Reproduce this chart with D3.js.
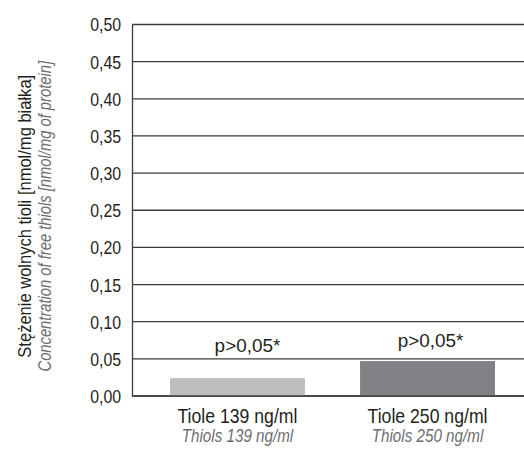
<!DOCTYPE html>
<html>
<head>
<meta charset="utf-8">
<script src="https://cdn.jsdelivr.net/npm/d3@7"></script>
<style>
  body { margin: 0; background: #fff; }
  text { font-family: "Liberation Sans", Arial, sans-serif; fill: #231f20; }
  .it { font-style: italic; fill: #6d6e71; }
</style>
</head>
<body>
<div id="chart"></div>
<script>
// data
var categories = ['Tiole 139 ng/ml', 'Tiole 250 ng/ml']
var categories_en = ['Thiols 139 ng/ml', 'Thiols 250 ng/ml']
var values = [0.024, 0.047]
var bar_colors = ['#bcbec0', '#808285']
var p_labels = ['p>0,05*', 'p>0,05*']
var p_label_at = [0.059, 0.066]   // where the p labels sit, in axis units
var y_ticks = [0, 0.05, 0.10, 0.15, 0.20, 0.25, 0.30, 0.35, 0.40, 0.45, 0.50]

const width = 524
const height = 449

var svg = d3.select('#chart').append('svg')
	.attr('width', width)
	.attr('height', height);

var y = d3.scaleLinear().domain([0, 0.5]).range([396, 24.5]);
var x = d3.scaleBand().domain(categories).range([132, 533])
	.paddingInner(0.29).paddingOuter(0.2);

var fmt = function(d){ return d3.format('.2f')(d).replace('.', ','); };

// no condensed font here, so squeeze the text to look condensed
var squeeze = function(sel, k){
	sel.each(function(){
		var len = this.getComputedTextLength();
		d3.select(this).attr('textLength', len*k).attr('lengthAdjust', 'spacingAndGlyphs');
	});
}

// grid lines
svg.append('g')
	.selectAll('line').data(y_ticks).enter().append('line')
	.attr('x1', 132).attr('x2', width)
	.attr('y1', function(d){ return y(d); })
	.attr('y2', function(d){ return y(d); })
	.attr('stroke', '#3c3c3c')
	.attr('stroke-width', 1.3);

// bars
svg.append('g')
	.selectAll('rect').data(values).enter().append('rect')
	.attr('x', function(d, i){ return x(categories[i]); })
	.attr('width', x.bandwidth())
	.attr('y', function(d){ return y(d); })
	.attr('height', function(d){ return y(0) - y(d); })
	.attr('fill', function(d, i){ return bar_colors[i]; });

// y axis
var yAxis = svg.append('g')
	.attr('transform', 'translate(132,0)')
	.call(d3.axisLeft(y).tickValues(y_ticks).tickFormat(fmt).tickSize(0).tickPadding(11));
yAxis.select('.domain').attr('stroke', '#3c3c3c').attr('stroke-width', 1.3);
yAxis.selectAll('text')
	.attr('font-family', '"Liberation Sans", Arial, sans-serif')
	.attr('font-size', 18)
	.attr('fill', '#231f20')
	.attr('dy', '0.36em')
	.call(squeeze, 0.88);

// bottom axis line
svg.append('line')
	.attr('x1', 132).attr('x2', width)
	.attr('y1', y(0)).attr('y2', y(0))
	.attr('stroke', '#3c3c3c').attr('stroke-width', 1.3);

// p labels
var p_dx = [10, 3]
svg.append('g')
	.selectAll('text').data(p_labels).enter().append('text')
	.attr('x', function(d, i){ return x(categories[i]) + x.bandwidth()/2 + p_dx[i]; })
	.attr('y', function(d, i){ return y(p_label_at[i]); })
	.attr('text-anchor', 'middle')
	.attr('font-size', 18)
	.text(function(d){ return d; })
	.call(squeeze, 1.05);

// category labels
var cat = svg.append('g')
cat.selectAll('text.pl').data(categories).enter().append('text')
	.attr('class', 'pl')
	.attr('x', function(d){ return x(d) + x.bandwidth()/2; })
	.attr('y', 423)
	.attr('text-anchor', 'middle')
	.attr('font-size', 21)
	.text(function(d){ return d; })
	.call(squeeze, 0.84);
cat.selectAll('text.it').data(categories_en).enter().append('text')
	.attr('class', 'it')
	.attr('x', function(d, i){ return x(categories[i]) + x.bandwidth()/2; })
	.attr('y', 442)
	.attr('text-anchor', 'middle')
	.attr('font-size', 19)
	.text(function(d){ return d; })
	.call(squeeze, 0.80);

// y axis title, two lines (scaled instead of textLength)
var mid = (y(0) + y(0.5))/2 + 6
svg.append('text')
	.attr('transform', 'translate(31,' + mid + ') rotate(-90) scale(0.87,1)')
	.attr('text-anchor', 'middle')
	.attr('font-size', 19)
	.text('Stężenie wolnych tioli [nmol/mg białka]');
svg.append('text')
	.attr('class', 'it')
	.attr('transform', 'translate(51,' + mid + ') rotate(-90) scale(0.82,1)')
	.attr('text-anchor', 'middle')
	.attr('font-size', 18)
	.text('Concentration of free thiols [nmol/mg of protein]');
</script>
</body>
</html>
